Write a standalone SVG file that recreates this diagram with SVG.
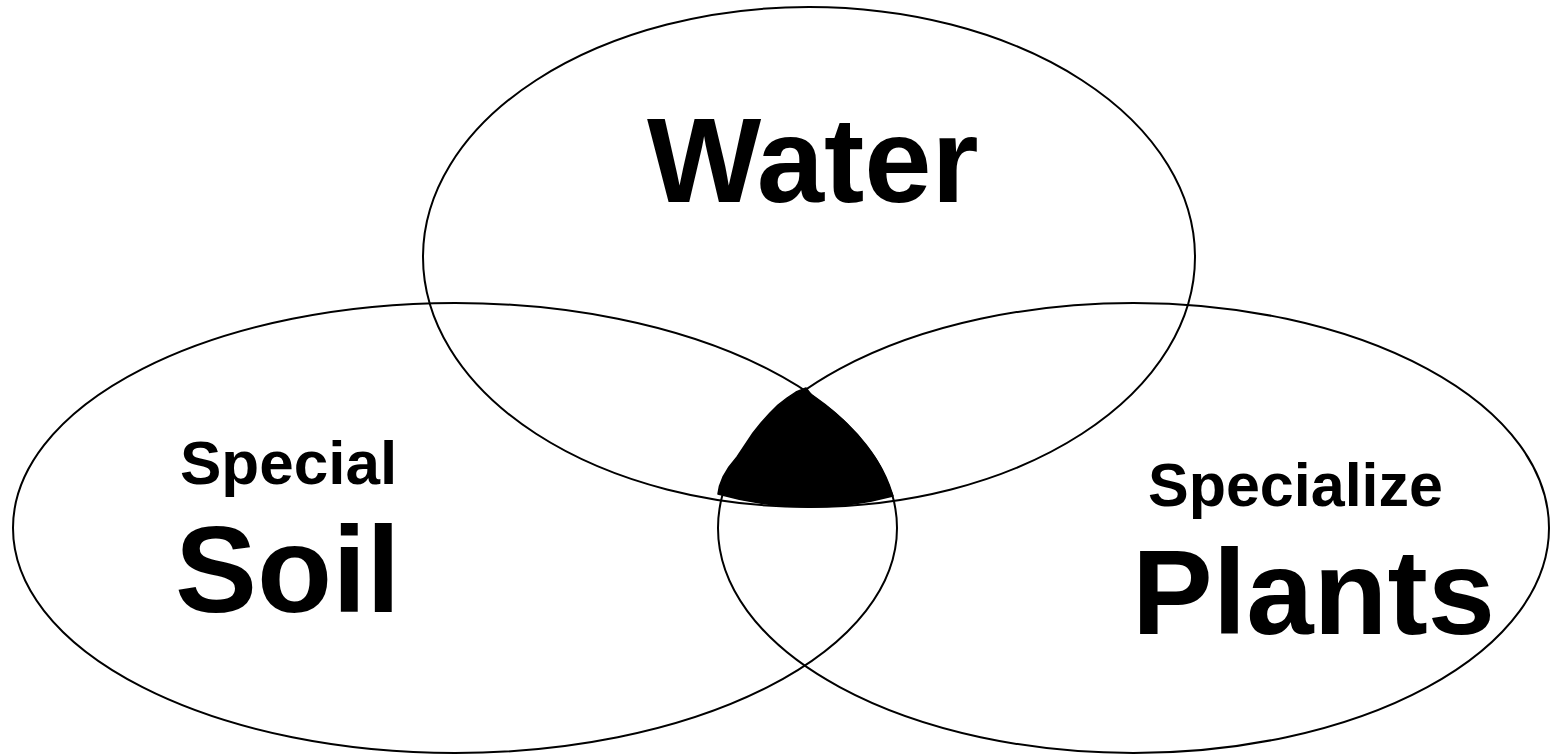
<svg xmlns="http://www.w3.org/2000/svg" width="1550" height="755" viewBox="0 0 1550 755">
<style>
.ring{fill:none;stroke:#000;stroke-width:2}
.lbl{font-family:"Liberation Sans",Arial,Helvetica,sans-serif;font-weight:bold;fill:#000}
.blob{fill:#000;stroke:#000;stroke-width:1.5;stroke-linejoin:round}
</style>
<rect width="1550" height="755" fill="#fff"/>
<g id="center">
<path class="blob" d="M806,388 L796,392 L787,398 L778,405 L770,413 L761,423 L753,433 L745,445 L737,457 L729,467 L723,477 L719.5,486 L718,494 Q807,519 893,496 L890.5,490 L887,481 L880.5,467 L874.5,457 L867,447 L857.5,435 L843,420 L831.5,410 L822,403 L811.5,395 Z"/>
</g>
<g id="water">
<ellipse class="ring" cx="809" cy="257" rx="386" ry="250"/>
<text class="lbl" x="647" y="202" font-size="121">Water</text>
</g>
<g id="soil">
<ellipse class="ring" cx="455" cy="528" rx="442" ry="225"/>
<text class="lbl" x="180" y="484" font-size="62">Special</text>
<text class="lbl" x="175" y="612" font-size="123">Soil</text>
</g>
<g id="plants">
<ellipse class="ring" cx="1133.5" cy="528" rx="415.5" ry="225"/>
<text class="lbl" x="1148" y="506" font-size="61">Specialize</text>
<text class="lbl" x="1132" y="634" font-size="121">Plants</text>
</g>
<g id="connectors"/>
</svg>
